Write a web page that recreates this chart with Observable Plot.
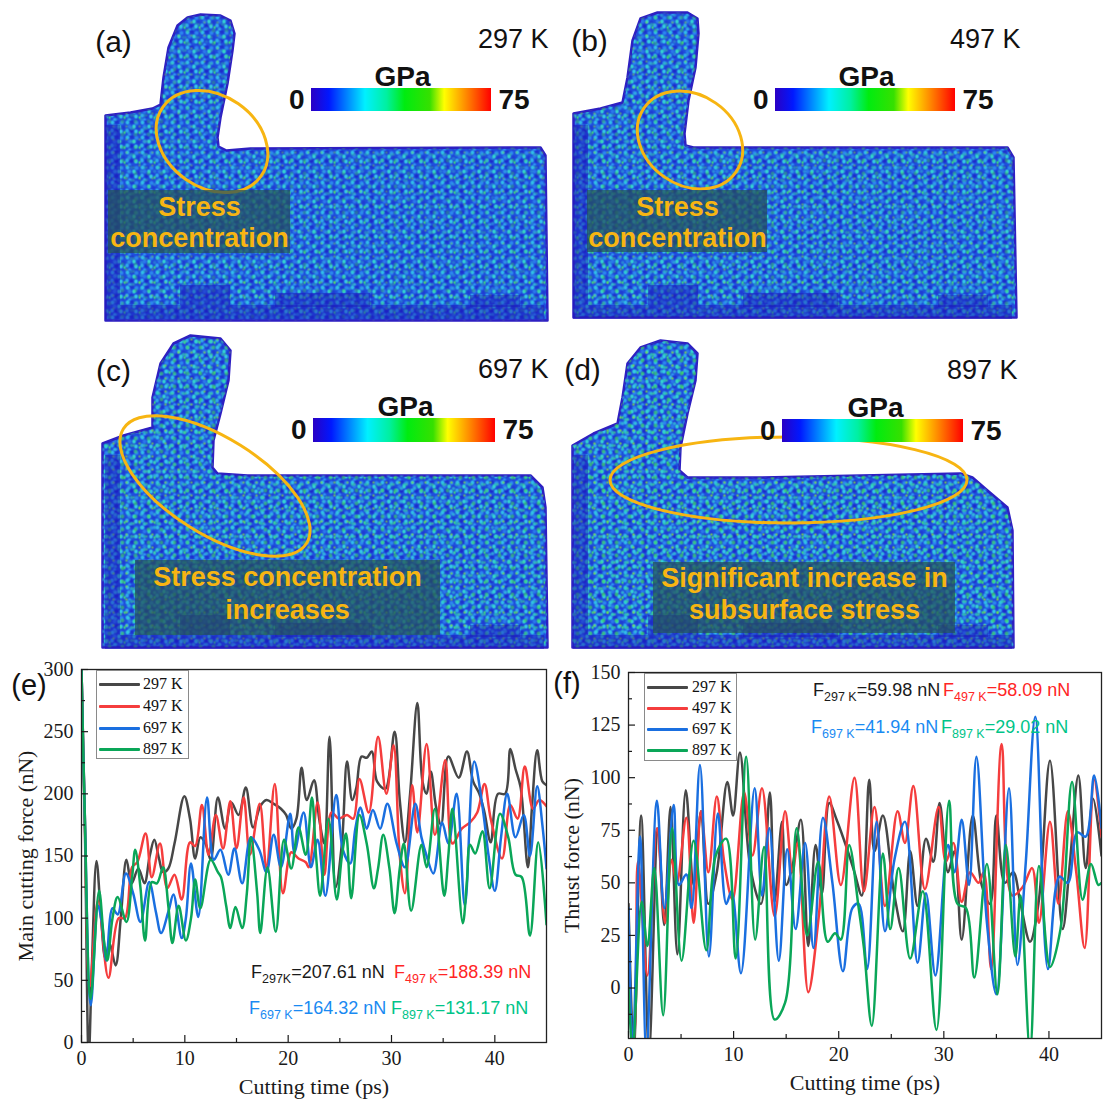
<!DOCTYPE html>
<html>
<head>
<meta charset="utf-8">
<script src="https://cdn.jsdelivr.net/npm/d3@7"></script>
<script src="https://cdn.jsdelivr.net/npm/@observablehq/plot@0.6"></script>
<style>
  html, body { margin: 0; padding: 0; background: #fff; }
  #root { position: relative; width: 1112px; height: 1106px; overflow: hidden; background: #fff; }
  .abs { position: absolute; }
  .legend { position: absolute; border: 1px solid #8a8a8a; background: #fff; box-sizing: border-box; }
  .note { position: absolute; white-space: nowrap; font-family: "Liberation Sans", Arial, sans-serif; font-size: 18px; line-height: 22px; }
  .note .sub { font-size: 12.5px; position: relative; top: 5px; }
  .tag { position: absolute; font-family: "Liberation Sans", Arial, sans-serif; font-size: 29px; line-height: 30px; transform: translate(-50%, -50%); color: #111; }
</style>
</head>
<body>
<svg width="0" height="0" style="position:absolute;left:0;top:0" aria-hidden="true">
  <defs>
    <linearGradient id="jet" x1="0" y1="0" x2="1" y2="0">
      <stop offset="0" stop-color="#2a00c4"/>
      <stop offset="0.1" stop-color="#0018ff"/>
      <stop offset="0.3" stop-color="#00f0ff"/>
      <stop offset="0.42" stop-color="#00f0a0"/>
      <stop offset="0.52" stop-color="#00ec10"/>
      <stop offset="0.66" stop-color="#36e000"/>
      <stop offset="0.74" stop-color="#ffff00"/>
      <stop offset="0.86" stop-color="#ff8a00"/>
      <stop offset="1" stop-color="#ff0000"/>
    </linearGradient>
    <pattern id="atoms" width="15" height="15" patternUnits="userSpaceOnUse">
      <rect width="15" height="15" fill="#1f4fdc"/>
      <circle cx="2" cy="2" r="1.9" fill="#31bde9"/>
      <circle cx="6.5" cy="1.5" r="1.9" fill="#1d33d0"/>
      <circle cx="11" cy="2.5" r="1.9" fill="#2b86ee"/>
      <circle cx="4" cy="6" r="1.9" fill="#2a78ea"/>
      <circle cx="8.5" cy="6" r="1.9" fill="#33cfd2"/>
      <circle cx="13" cy="7" r="1.9" fill="#1e3cd4"/>
      <circle cx="1.5" cy="10" r="1.9" fill="#2fa8ec"/>
      <circle cx="6" cy="10.5" r="1.9" fill="#1c2ccc"/>
      <circle cx="10.5" cy="11" r="1.9" fill="#34c6e6"/>
      <circle cx="14.5" cy="12" r="1.5" fill="#3bd97a"/>
      <circle cx="4" cy="14" r="1.6" fill="#2d92ef"/>
      <circle cx="12.5" cy="14.5" r="1.2" fill="#2540d6"/>
    </pattern>
    <pattern id="atomsHot" width="13" height="13" patternUnits="userSpaceOnUse">
      <circle cx="3" cy="4" r="1.9" fill="#3ddc5c"/>
      <circle cx="9" cy="2" r="1.8" fill="#36d6d8"/>
      <circle cx="7" cy="9" r="1.3" fill="#86e23c"/>
      <circle cx="12" cy="11" r="1.8" fill="#2fe0b0"/>
      <circle cx="1" cy="11" r="1.4" fill="#44d890"/>
    </pattern>
  </defs>
</svg>
<div id="root"></div>
<script>
// ======================= DATA =======================
const temps = ["297 K", "497 K", "697 K", "897 K"];
const panelTags = ["(a)", "(b)", "(c)", "(d)"];
const colorbarDomain = [0, 75];
const colorbarUnit = "GPa";
const notesA = ["Stress", "concentration"];
const notesB = ["Stress", "concentration"];
const notesC = ["Stress concentration", "increases"];
const notesD = ["Significant increase in", "subsurface stress"];

// workpiece + chip outlines read from the snapshots (Å, y up)
const outlineA = [[25,5],[25,210],[50,213],[72,217],[80,221],[83,248],[88,278],[97,300],[107,308],[120,311],[140,310],[150,305],[154,292],[152,275],[147,242],[140,208],[137,188],[138,179],[146,175],[170,177],[460,178],[465,170],[467,5]];
const outlineB = [[25,8],[25,212],[52,217],[74,223],[79,248],[84,285],[92,307],[109,313],[139,313],[149,307],[150,292],[147,258],[140,225],[136,192],[137,180],[145,178],[459,178],[465,168],[468,8]];
const outlineC = [[22,8],[22,212],[43,220],[72,228],[72,258],[80,292],[93,312],[110,320],[140,317],[150,305],[148,275],[140,242],[133,215],[132,188],[137,182],[167,180],[450,180],[462,168],[465,148],[467,8]];
const outlineD = [[24,8],[24,210],[45,222],[69,232],[74,258],[79,292],[92,308],[112,315],[139,312],[149,302],[147,275],[139,242],[132,208],[131,185],[139,178],[212,178],[412,182],[424,178],[439,165],[459,148],[464,125],[465,8]];
// darker crystalline regions [x1, x2, y1, y2]
const crystalRegions = [[25,40,20,200],[25,464,6,20],[100,150,20,40],[195,290,18,32],[390,440,18,30]];

// chart axes
const timeTicks = [0, 10, 20, 30, 40];
const timeMinor = [5, 15, 25, 35];
const mainTicks = [0, 50, 100, 150, 200, 250, 300];
const mainMinor = [25, 75, 125, 175, 225, 275];
const thrustTicks = [0, 25, 50, 75, 100, 125, 150];
const thrustMinor = [-12.5, 12.5, 37.5, 62.5, 87.5, 112.5, 137.5];

// (e) main cutting force [time ps, force nN]
const e297 = [[0,300],[0.35,160],[0.7,-12],[1.0,60],[1.45,146],[1.9,100],[2.3,68],[2.7,80],[3.3,62],[3.8,100],[4.35,147],[4.85,128],[5.5,140],[6.1,128],[6.6,150],[7.05,163],[7.5,148],[7.9,137],[8.4,140],[9.0,160],[9.95,198],[10.5,180],[11.0,148],[11.5,165],[12.0,160],[12.5,147],[13.2,197],[13.9,172],[14.5,193],[15.2,183],[15.9,205],[16.6,173],[17.3,190],[17.9,195],[18.6,192],[19.3,188],[19.8,183],[20.3,172],[20.8,180],[21.3,221],[21.8,195],[22.5,211],[23.0,180],[23.5,160],[24.0,246],[24.6,125],[25.2,160],[25.7,226],[26.2,195],[26.6,205],[27.1,230],[27.6,229],[28.1,234],[28.6,210],[29.4,204],[30.3,250],[30.8,195],[31.3,161],[31.8,200],[32.5,273],[33.0,210],[33.4,200],[33.8,218],[34.3,190],[34.8,175],[35.5,230],[36.5,213],[37.3,234],[37.9,210],[38.5,200],[39.0,185],[39.6,161],[40.3,200],[41.0,200],[41.5,236],[42.0,220],[42.5,205],[43.2,141],[43.6,190],[44.1,235],[44.6,210],[45,207]];
const e497 = [[0,300],[0.3,190],[0.8,45],[1.6,114],[2.6,52],[3.6,100],[4.2,100],[4.9,141],[5.4,145],[6.2,168],[6.8,133],[7.6,160],[8.3,124],[9.0,135],[9.7,115],[10.5,161],[11.0,158],[11.65,191],[12.3,151],[13.0,183],[13.7,156],[14.4,194],[15.0,156],[15.7,197],[16.3,151],[17.25,192],[17.9,140],[18.7,208],[19.5,120],[20.3,153],[21.0,148],[21.7,145],[22.0,141],[22.85,193],[23.5,135],[24.2,185],[24.9,180],[25.7,183],[26.3,180],[26.9,212],[27.8,185],[28.7,246],[29.5,200],[30.2,239],[30.8,150],[31.3,120],[32.0,207],[32.5,169],[33.4,240],[34.2,167],[35.2,227],[35.9,160],[36.8,172],[37.6,177],[38.3,185],[39.0,208],[39.6,180],[40.7,148],[41.5,191],[42.2,180],[42.9,222],[43.7,188],[44.3,195],[45,190]];
const e697 = [[0,300],[0.3,190],[0.9,30],[1.6,110],[2.0,95],[2.4,66],[3.0,108],[3.5,103],[4.3,136],[5.0,120],[5.7,97],[6.55,129],[7.2,105],[7.7,88],[8.4,105],[8.9,119],[9.7,84],[10.1,100],[10.6,144],[11.3,101],[12.15,197],[12.8,147],[13.45,155],[14.2,135],[14.8,156],[15.55,128],[16.4,165],[17.2,155],[17.9,137],[18.6,167],[19.3,141],[20.2,184],[20.6,153],[21.5,185],[22.2,141],[22.85,163],[23.6,118],[24.65,199],[25.3,155],[26.0,144],[26.5,172],[27.0,189],[27.6,172],[28.2,187],[28.9,172],[29.6,192],[30.5,160],[31.3,141],[32.3,192],[32.9,165],[33.4,150],[34.05,136],[34.9,177],[35.5,160],[36.3,200],[37.1,110],[38.0,226],[38.8,190],[39.4,150],[40.0,122],[40.6,165],[41.2,200],[42.0,165],[42.8,183],[43.4,150],[44.1,206],[44.6,175],[45,140]];
const e897 = [[0,300],[0.3,190],[0.88,35],[1.7,122],[2.2,80],[2.5,66],[3.0,100],[3.5,117],[4.35,97],[4.9,133],[5.2,155],[5.7,125],[6.15,82],[6.8,129],[7.3,128],[7.9,141],[8.4,110],[8.8,80],[9.4,110],[10.1,82],[10.6,100],[11.0,131],[11.5,108],[12.5,147],[13.2,137],[13.5,133],[14.0,110],[14.4,92],[14.9,109],[15.55,92],[16.0,120],[16.4,165],[17.0,120],[17.3,88],[18.0,141],[18.8,89],[19.6,163],[20.3,140],[21.0,173],[21.7,151],[22.3,197],[22.7,150],[23.1,118],[23.9,180],[24.7,115],[25.2,150],[25.6,168],[26.1,116],[26.9,183],[27.6,160],[28.3,124],[28.7,140],[29.2,167],[29.8,140],[30.3,104],[30.8,140],[31.2,160],[31.9,106],[32.9,159],[33.4,141],[34.2,188],[35.1,118],[35.5,150],[35.9,188],[36.9,96],[37.3,130],[37.6,159],[38.1,152],[38.8,170],[39.5,124],[40.5,184],[41.3,165],[42.0,135],[42.6,133],[43.4,86],[44.2,161],[45,95]];

// (f) thrust force [time ps, force nN]
const f297 = [[0,40],[0.5,-30],[1.2,82],[1.95,-30],[2.8,76],[3.4,30],[4.0,86],[4.65,16],[5.45,94],[6.2,49],[6.9,84],[7.6,40],[8.4,55],[9.4,98],[9.95,82],[10.6,112],[11.6,57],[12.6,40],[13.45,93],[13.9,41],[14.6,79],[15.0,49],[15.6,58],[16.4,80],[17.1,20],[17.8,68],[18.4,45],[19.1,88],[19.8,80],[20.8,66],[21.5,55],[22.2,44],[22.9,99],[23.4,65],[24.2,82],[25.3,44],[26.1,27],[26.8,65],[27.5,39],[28.3,71],[29.0,60],[29.6,88],[30.4,55],[31.0,65],[31.7,23],[32.75,82],[33.6,49],[34.4,40],[35.0,82],[35.8,50],[36.6,55],[37.3,40],[38.2,22],[39.0,40],[40.1,108],[41.3,28],[42.0,60],[42.8,101],[43.5,57],[44.2,90],[45,63]];
const f497 = [[0,-30],[0.3,-30],[0.9,60],[1.8,6],[2.7,76],[3.5,31],[4.1,61],[4.6,50],[5.5,81],[6.2,31],[6.9,84],[7.6,55],[8.4,91],[9.1,60],[9.9,42],[11.0,93],[11.8,63],[12.7,95],[13.9,34],[14.9,84],[15.6,55],[16.1,69],[17.1,-2],[18.1,34],[19.1,91],[20.2,49],[21.5,100],[22.4,46],[23.4,86],[24.4,39],[25.6,84],[26.3,69],[27.1,96],[28.2,47],[29.5,86],[30.2,60],[30.9,69],[31.7,41],[32.5,55],[33.3,50],[33.8,55],[34.5,9],[35.5,116],[36.5,44],[37.5,48],[38.4,57],[39.05,31],[40.1,79],[40.9,40],[41.8,84],[42.6,55],[43.4,19],[44.3,99],[45,72]];
const f697 = [[0,38],[0.4,-30],[1.1,72],[1.7,-30],[2.7,89],[3.4,38],[4.3,87],[4.8,49],[5.5,54],[6.0,38],[6.8,106],[7.65,15],[8.5,83],[9.3,40],[9.8,46],[10.7,7],[12.0,95],[12.7,44],[13.4,76],[14.3,13],[15.1,66],[15.9,28],[16.8,69],[17.6,19],[18.5,81],[19.4,50],[20.4,8],[21.3,38],[21.9,40],[22.7,9],[23.6,79],[24.4,27],[25.3,61],[26.3,79],[27.5,12],[28.3,45],[29.2,6],[30.4,68],[31.0,55],[31.7,80],[32.4,49],[33.1,110],[34.1,31],[35.0,-3],[36.2,95],[37.0,11],[37.8,60],[38.7,129],[39.9,9],[41.0,53],[41.8,50],[42.7,74],[43.5,72],[44.3,101],[45,76]];
const f897 = [[0,0],[0.4,-30],[1.25,41],[1.8,20],[2.45,57],[3.3,-13],[4.15,76],[5.05,13],[6.2,70],[7.4,18],[8.3,63],[9.3,71],[10.2,14],[11.2,110],[12.05,23],[12.9,67],[13.9,-15],[14.9,-7],[16.0,76],[17.0,25],[18.05,60],[18.95,22],[19.65,26],[20.2,23],[21.0,68],[21.9,38],[22.4,19],[23.15,-18],[24.2,64],[24.9,28],[25.7,57],[26.8,14],[28.0,46],[29.3,-20],[30.5,89],[31.3,40],[32.1,38],[32.9,5],[34.1,59],[35.1,-3],[35.9,68],[36.8,15],[37.3,44],[38.2,-30],[39.05,58],[40.1,10],[41.1,28],[42.2,98],[43.2,42],[44.0,59],[44.7,49],[45,50]];

// average forces
const mainSubs = ["297K", "497 K", "697 K", "897 K"];
const mainAvg = ["207.61", "188.39", "164.32", "131.17"];
const thrustSubs = ["297 K", "497 K", "697 K", "897 K"];
const thrustAvg = ["59.98", "58.09", "41.94", "29.02"];

// ======================= STYLE / LAYOUT =======================
const lineColors = ["#474747", "#f53d3d", "#1a6fe0", "#0aa658"];
const noteColors = ["#1a1a1a", "#ff2525", "#1a8af2", "#00c488"];
const orange = "#f7b512";
const SANS = "Liberation Sans, Arial, sans-serif";
const SERIF = "Liberation Serif, Times New Roman, serif";

const snapLayout = [
  {left: 80, top: 0, tag: [33, 283], temp: [468, 286], bar: [231, 411, 214, 237], unit: [322, 248],
   ring: [132, 183.5, 60, 46, 35], box: [28, 210, 72, 135], noteX: 119, noteY: [118, 87], hot: 0.35},
  {left: 548, top: 0, tag: [41, 284], temp: [472, 286], bar: [227, 407, 214, 237], unit: [318, 248],
   ring: [142, 185, 56, 45, 35], box: [39, 219, 73, 135], noteX: 129, noteY: [118, 87], hot: 0.45},
  {left: 80, top: 330, tag: [33, 284], temp: [468, 286], bar: [233, 415, 213, 237], unit: [325, 248],
   ring: [135, 169, 108, 48, 32], box: [55, 360, 20, 95], noteX: 207, noteY: [78, 45], hot: 0.6},
  {left: 548, top: 330, tag: [34, 285], temp: [469, 285], bar: [234, 415, 213, 236], unit: [327, 247],
   ring: [240.5, 175, 178.5, 43, 0], box: [105, 407, 22, 93], noteX: 256, noteY: [77, 45], hot: 0.7}
];
const outlines = [outlineA, outlineB, outlineC, outlineD];
const notes = [notesA, notesB, notesC, notesD];

const root = document.getElementById("root");
function place(node, left, top, width) {
  const d = document.createElement("div");
  d.className = "abs";
  d.style.left = left + "px";
  d.style.top = top + "px";
  if (width) d.style.width = width + "px";
  d.appendChild(node);
  root.appendChild(d);
  return d;
}

function ringMark(e) {
  return (index, scales) => {
    const cx = scales.x(e[0]), cy = scales.y(e[1]);
    const rx = Math.abs(scales.x(e[0] + e[2]) - cx);
    const ry = Math.abs(scales.y(e[1] + e[3]) - cy);
    const el = document.createElementNS("http://www.w3.org/2000/svg", "ellipse");
    el.setAttribute("cx", cx); el.setAttribute("cy", cy);
    el.setAttribute("rx", rx); el.setAttribute("ry", ry);
    el.setAttribute("transform", `rotate(${e[4]} ${cx} ${cy})`);
    el.setAttribute("fill", "none");
    el.setAttribute("stroke", orange);
    el.setAttribute("stroke-width", 3);
    return el;
  };
}

function snapshot(i) {
  const L = snapLayout[i];
  const outline = outlines[i];
  const ring = outline.concat([outline[0]]);
  const bar = L.bar;
  const barMid = (bar[2] + bar[3]) / 2;
  return Plot.plot({
    width: 480, height: 325, margin: 0,
    x: {domain: [0, 480], axis: null},
    y: {domain: [0, 325], axis: null},
    style: {background: "transparent", overflow: "visible", fontFamily: SANS, color: "#111"},
    marks: [
      Plot.line(ring, {x: d => d[0], y: d => d[1], fill: "url(#atoms)", stroke: "#2d1fc2", strokeWidth: 2.5, curve: "linear"}),
      Plot.line(ring, {x: d => d[0], y: d => d[1], fill: "url(#atomsHot)", fillOpacity: L.hot, stroke: "none", curve: "linear"}),
      Plot.rect(crystalRegions, {x1: d => d[0], x2: d => d[1], y1: d => d[2], y2: d => d[3], fill: "#1c16b8", fillOpacity: 0.45}),
      ringMark(L.ring),
      Plot.rect([L.box], {x1: d => d[0], x2: d => d[1], y1: d => d[2], y2: d => d[3], fill: "#24515a", fillOpacity: 0.72}),
      Plot.text(notes[i], {x: () => L.noteX, y: (d, j) => L.noteY[j], text: d => d, fill: orange, fontWeight: "bold", fontSize: 27, fontFamily: SANS}),
      Plot.rect([bar], {x1: d => d[0], x2: d => d[1], y1: d => d[2], y2: d => d[3], fill: "url(#jet)"}),
      Plot.text([String(colorbarDomain[0])], {x: () => bar[0] - 7, y: () => barMid, text: d => d, textAnchor: "end", fontWeight: "bold", fontSize: 28, fill: "#111"}),
      Plot.text([String(colorbarDomain[1])], {x: () => bar[1] + 7, y: () => barMid, text: d => d, textAnchor: "start", fontWeight: "bold", fontSize: 28, fill: "#111"}),
      Plot.text([colorbarUnit], {x: () => L.unit[0], y: () => L.unit[1], text: d => d, fontWeight: "bold", fontSize: 28, fill: "#111"}),
      Plot.text([panelTags[i]], {x: () => L.tag[0], y: () => L.tag[1], text: d => d, fontSize: 30, fill: "#111"}),
      Plot.text([temps[i]], {x: () => L.temp[0], y: () => L.temp[1], text: d => d, textAnchor: "end", fontSize: 27, fill: "#111"})
    ]
  });
}

function forceChart(cfg) {
  const rows = cfg.series.flatMap((s, i) => s.map(([t, v]) => ({t, v, k: temps[i]})));
  return Plot.plot({
    width: cfg.width, height: cfg.height,
    marginLeft: cfg.m[0], marginTop: cfg.m[1], marginRight: cfg.m[2], marginBottom: cfg.m[3],
    style: {background: "transparent", color: "#1a1a1a", fontFamily: SERIF, overflow: "visible"},
    x: {domain: [0, 45], label: null},
    y: {domain: cfg.yDomain, label: null},
    color: {domain: temps, range: lineColors},
    marks: [
      Plot.line(rows, {x: "t", y: "v", z: "k", stroke: "k", strokeWidth: 2.5, curve: "catmull-rom", clip: true}),
      Plot.frame({stroke: "#222", strokeWidth: 1.3}),
      Plot.axisX(timeTicks, {tickSize: -7, tickFormat: () => "", strokeWidth: 1.2, label: null}),
      Plot.axisX(timeMinor, {tickSize: -4, tickFormat: () => "", strokeWidth: 1.2, label: null}),
      Plot.axisX(timeTicks, {tickSize: 0, tickPadding: 8, fontSize: 20, fontFamily: SERIF, label: null}),
      Plot.axisY(cfg.yTicks, {tickSize: -7, tickFormat: () => "", strokeWidth: 1.2, label: null}),
      Plot.axisY(cfg.yMinor, {tickSize: -4, tickFormat: () => "", strokeWidth: 1.2, label: null}),
      Plot.axisY(cfg.yTicks, {tickSize: 0, tickPadding: 8, fontSize: 20, fontFamily: SERIF, label: null}),
      Plot.text([cfg.xTitle], {text: d => d, frameAnchor: "bottom", dy: cfg.xTitleDy, textAnchor: "middle", lineAnchor: "middle", fontSize: 22, fontFamily: SERIF}),
      Plot.text([cfg.yTitle], {text: d => d, frameAnchor: "left", dx: cfg.yTitleDx, rotate: -90, textAnchor: "middle", lineAnchor: "middle", fontSize: 22, fontFamily: SERIF})
    ]
  });
}

// ---- top snapshots
snapLayout.forEach((L, i) => place(snapshot(i), L.left, L.top, 480));

// ---- bottom charts
place(forceChart({
  series: [e297, e497, e697, e897], width: 556, height: 456, m: [81, 19, 10, 64],
  yDomain: [0, 300], yTicks: mainTicks, yMinor: mainMinor,
  xTitle: "Cutting time (ps)", yTitle: "Main cutting force (nN)", xTitleDy: 44, yTitleDx: -56
}), 0, 650, 556);
place(forceChart({
  series: [f297, f497, f697, f897], width: 556, height: 456, m: [72, 22, 11, 68],
  yDomain: [-24, 150], yTicks: thrustTicks, yMinor: thrustMinor,
  xTitle: "Cutting time (ps)", yTitle: "Thrust force (nN)", xTitleDy: 44, yTitleDx: -57
}), 556, 650, 556);

// ---- legends
function addLegend(box, rowY, lineX, textX) {
  const b = document.createElement("div");
  b.className = "legend";
  Object.assign(b.style, {left: box[0] + "px", top: box[1] + "px", width: box[2] + "px", height: box[3] + "px"});
  temps.forEach((t, i) => {
    const ln = document.createElement("div");
    Object.assign(ln.style, {position: "absolute", left: lineX[0] + "px", width: (lineX[1] - lineX[0]) + "px",
      top: (rowY[i] - 1.5) + "px", height: "3px", background: lineColors[i], borderRadius: "1px"});
    const lb = document.createElement("div");
    Object.assign(lb.style, {position: "absolute", left: textX + "px", top: (rowY[i] - 10) + "px", lineHeight: "20px",
      fontFamily: SERIF, fontSize: "16px", color: "#111", whiteSpace: "nowrap"});
    lb.textContent = t;
    b.appendChild(ln); b.appendChild(lb);
  });
  root.appendChild(b);
}
addLegend([96, 670, 93, 89], [13, 35, 57, 78], [2, 43], 46);
addLegend([644, 673, 93, 88], [13, 34, 55, 76], [2, 43], 47);

// ---- average force notes
function addNote(x, y, sub, val, color) {
  const d = document.createElement("div");
  d.className = "note";
  d.style.left = x + "px";
  d.style.top = (y - 11) + "px";
  d.style.color = color;
  d.innerHTML = `F<span class="sub">${sub}</span>=${val} nN`;
  root.appendChild(d);
}
const mainNotePos = [[251, 972], [394, 972], [249, 1008], [391, 1008]];
const thrustNotePos = [[813, 690], [943, 690], [811, 727], [941, 727]];
mainAvg.forEach((v, i) => addNote(mainNotePos[i][0], mainNotePos[i][1], mainSubs[i], v, noteColors[i]));
thrustAvg.forEach((v, i) => addNote(thrustNotePos[i][0], thrustNotePos[i][1], thrustSubs[i], v, noteColors[i]));

// ---- panel tags for charts
[["(e)", 29, 685], ["(f)", 567, 683]].forEach(([t, x, y]) => {
  const d = document.createElement("div");
  d.className = "tag";
  d.style.left = x + "px"; d.style.top = y + "px";
  d.textContent = t;
  root.appendChild(d);
});
</script>
</body>
</html>
